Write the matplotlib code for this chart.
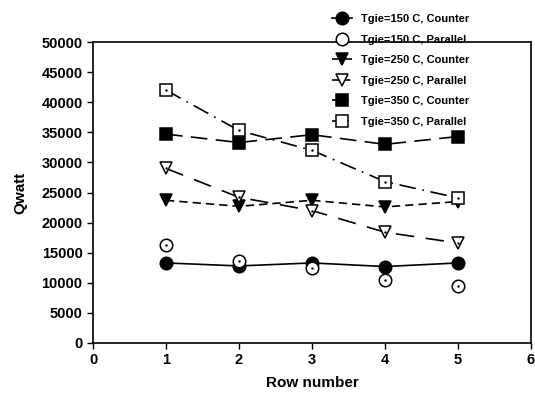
import matplotlib
matplotlib.use("Agg")
import matplotlib.pyplot as plt

rows = [1, 2, 3, 4, 5]
q150_counter = [13300, 12800, 13300, 12700, 13300]
q150_parallel = [16200, 13700, 12400, 10400, 9400]
q250_counter = [23700, 22700, 23700, 22600, 23500]
q250_parallel = [29000, 24200, 22000, 18400, 16600]
q350_counter = [34700, 33300, 34600, 33000, 34300]
q350_parallel = [42000, 35300, 32000, 26800, 24100]
labels = ["Tgie=150 C, Counter", "Tgie=150 C, Parallel",
          "Tgie=250 C, Counter", "Tgie=250 C, Parallel",
          "Tgie=350 C, Counter", "Tgie=350 C, Parallel"]

plt.rcParams['font.family'] = ['Liberation Sans', 'DejaVu Sans']
plt.rcParams['font.weight'] = 'bold'

fig = plt.figure(figsize=(5.35, 3.96), dpi=100)
ax = fig.add_axes([93/535, 1-343/396, (531-93)/535, (343-42)/396])

lw = 1.2
ms = 9
series = [
    (q150_counter, dict(color='black', ls='-', marker='o', mfc='black')),
    (q150_parallel, dict(color='black', ls='none', marker='o', mfc='white')),
    (q250_counter, dict(color='black', ls=(0, (5, 3)), marker='v', mfc='black')),
    (q250_parallel, dict(color='black', ls=(0, (11, 7)), marker='v', mfc='white')),
    (q350_counter, dict(color='black', ls=(0, (10, 5)), marker='s', mfc='black')),
    (q350_parallel, dict(color='black', ls=(0, (10, 4, 1, 4)), marker='s', mfc='white')),
]
handles = []
for (vals, st), lab in zip(series, labels):
    h, = ax.plot(rows, vals, lw=lw, ms=ms, mec='black', mew=1.1, label=lab, **st)
    ax.plot(rows, vals, ls='none', marker='.', ms=1.5, color='black')
    handles.append(h)

ax.set_xlim(0, 6)
ax.set_ylim(0, 50000)
ax.set_xticks(range(0, 7))
ax.set_yticks(range(0, 50001, 5000))
ax.tick_params(direction='out', length=4, width=1, labelsize=10.5)
for s in ax.spines.values():
    s.set_linewidth(1.2)
ax.set_xlabel("Row number", fontsize=11, fontweight='bold', labelpad=6)
ax.set_ylabel("Qwatt", fontsize=11, fontweight='bold', labelpad=10)

leg = fig.legend(handles=handles, loc='upper left', bbox_to_anchor=(322/535, 1-4/396),
                 frameon=False, fontsize=8, handlelength=1.8, labelspacing=0.95,
                 handletextpad=0.8)
for t in leg.get_texts():
    t.set_fontweight('bold')

fig.savefig("out.png", dpi=100)
